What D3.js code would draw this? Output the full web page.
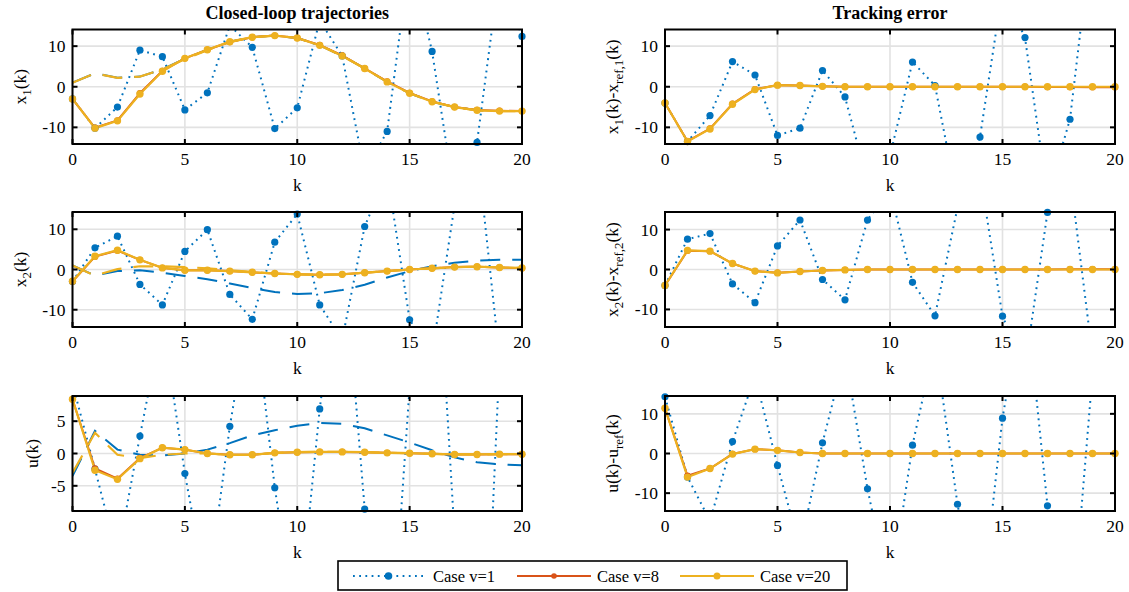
<!DOCTYPE html>
<html>
<head>
<meta charset="utf-8">
<script src="https://cdn.jsdelivr.net/npm/d3@7"></script>
<style>
body { margin: 0; background: #fff; }
svg { display: block; }
text { font-family: "Liberation Serif", "Times New Roman", serif; fill: #000; }
</style>
</head>
<body>
<svg id="chart" width="1129" height="592" font-family="Liberation Serif, serif"></svg>
<script>
// sample index
var ks = [0,1,2,3,4,5,6,7,8,9,10,11,12,13,14,15,16,17,18,19,20];

// closed-loop x1(k)
var x1V1  = [-3.0,-10.2,-5.0,9.0,7.4,-5.7,-1.5,15.1,9.7,-10.3,-5.2,16.3,7.6,-21,-11.0,31.8,8.7,-27.3,-13.7,28.3,12.4];
var x1V8  = [-3.0,-10.1,-8.3,-1.6,3.9,7.0,9.1,11.0,12.2,12.6,12.0,10.3,7.7,4.5,1.3,-1.5,-3.6,-5.0,-5.7,-5.9,-6.0];
var x1V20 = [-3.0,-10.2,-8.4,-1.8,3.8,7.0,9.1,11.1,12.2,12.6,12.0,10.2,7.6,4.5,1.2,-1.6,-3.7,-5.0,-5.8,-6.0,-6.0];
var x1RefV1  = [1.0,3.3,2.2,2.5,4.3,6.9,9.1,11.1,12.2,12.6,12.0,10.2,7.6,4.5,1.2,-1.6,-3.7,-5.0,-5.8,-6.0,-6.0];
var x1RefV20 = [1.0,3.3,2.2,2.5,4.3,6.8,9.0,11.0,12.2,12.6,12.0,10.2,7.6,4.5,1.2,-1.6,-3.7,-5.0,-5.8,-6.0,-6.0];

// closed-loop x2(k)
var x2V1  = [-3.0,5.4,8.3,-3.7,-8.8,4.5,9.9,-6.2,-12.4,6.8,13.8,-8.8,-17.5,10.7,24,-12.5,-21,16,30,-22,-40];
var x2V8  = [-3.0,3.2,4.7,2.4,0.4,-0.2,-0.2,-0.4,-0.7,-1.0,-1.2,-1.3,-1.2,-0.8,-0.4,0.0,0.3,0.6,0.7,0.5,0.3];
var x2V20 = [-2.9,3.3,4.8,2.4,0.4,-0.2,-0.2,-0.4,-0.7,-1.0,-1.2,-1.3,-1.2,-0.8,-0.4,0.0,0.3,0.6,0.7,0.5,0.4];
var x2RefV1  = [1.0,-1.5,-0.4,-0.2,-0.8,-1.6,-2.4,-3.5,-4.6,-5.6,-6.1,-5.9,-5.1,-3.8,-2.0,-0.4,0.8,1.7,2.2,2.4,2.4];
var x2RefV20 = [1.0,-1.5,0.1,0.8,0.8,0.6,0.3,-0.2,-0.6,-1.0,-1.2,-1.3,-1.2,-0.8,-0.4,0.0,0.3,0.6,0.7,0.5,0.4];

// input u(k)
var uV1  = [10.8,-2.4,-16,2.7,20.5,-3.1,-22,4.2,25,-5.3,-28,6.9,34,-8.6,-40.6,10.3,46,-12.6,-63,14.3,60];
var uV8  = [8.4,-2.3,-3.9,-0.7,0.9,0.6,0.0,-0.2,-0.2,0.1,0.2,0.25,0.25,0.2,0.1,0.05,-0.05,-0.15,-0.15,-0.1,-0.1];
var uV20 = [8.4,-2.6,-4.0,-0.8,0.9,0.6,0.0,-0.2,-0.2,0.1,0.2,0.25,0.25,0.2,0.1,0.05,-0.05,-0.15,-0.15,-0.1,-0.1];
var uRefV1  = [-3.5,3.5,0.6,-0.2,-0.3,0.0,0.6,1.6,2.8,3.6,4.3,4.75,4.6,3.9,2.8,1.7,0.5,-0.6,-1.35,-1.7,-1.8];
var uRefV20 = [-3.0,3.2,-0.2,-0.7,-0.2,0.0,0.0,-0.2,-0.2,0.1,0.2,0.25,0.25,0.2,0.1,0.05,-0.05,-0.15,-0.15,-0.1,-0.1];

// tracking errors
var e1V1  = [-4.0,-13.5,-7.1,6.2,2.9,-12.0,-10.2,4.0,-2.5,-23.5,-17,6.1,0.3,-28,-12.4,24,12.1,-27,-8.0,39,18];
var e1V8  = [-4.0,-13.4,-10.3,-4.2,-0.6,0.4,0.3,0.1,0.0,0.0,0.0,0.0,0.0,0.0,0.0,0.0,0.0,-0.05,-0.05,-0.1,-0.1];
var e1V20 = [-4.0,-13.5,-10.4,-4.3,-0.7,0.4,0.3,0.1,0.0,0.0,0.0,0.0,0.0,0.0,0.0,0.0,0.0,0.0,0.0,0.0,0.0];
var e2V1  = [-4.0,7.6,9.0,-3.6,-8.3,5.9,12.4,-2.5,-7.6,12.4,20,-3.2,-11.6,15.5,24,-11.7,-24.5,14.3,23.5,-21.6,-40];
var e2V8  = [-4.0,4.7,4.6,1.5,-0.4,-0.8,-0.5,-0.25,-0.1,0.0,0.0,0.0,0.0,0.0,0.0,0.0,0.0,0.0,0.05,0.05,0.05];
var e2V20 = [-4.0,4.8,4.6,1.5,-0.4,-0.85,-0.5,-0.25,-0.1,0.0,0.0,0.0,0.0,0.0,0.0,0.0,0.0,0.0,0.0,0.0,0.0];
var e3V1  = [14.3,-5.9,-17,3.0,19.5,-3.0,-24,2.7,25,-8.9,-36,2.1,28,-12.8,-42,8.9,42,-13.2,-49,20,60];
var e3V8  = [11.4,-5.6,-3.8,-0.1,1.1,0.8,0.25,0.0,0.0,0.0,0.0,0.0,0.0,0.0,0.0,0.0,0.0,0.0,0.0,0.0,0.0];
var e3V20 = [11.4,-5.95,-3.8,-0.15,1.1,0.8,0.25,0.0,0.0,0.0,0.0,0.0,0.0,0.0,0.0,0.0,0.0,0.0,0.0,0.0,0.0];

var xTicks = [0,5,10,15,20];
var legendNames = ["Case v=1","Case v=8","Case v=20"];

var colBlue = "#0072BD", colRed = "#D95319", colYellow = "#EDB120";
var serif = "'Liberation Serif', 'Times New Roman', serif";

var colX = [[72.5,522],[665,1115]];
var rowY = [[29.5,144],[212,327],[396,511]];

var svg = d3.select("#chart");

var panels = [
	{col:0,row:0,ydom:[-14.1,14.1],yticks:[-10,0,10],labX:20,
	 label:[["x"],["1","sub"],["(k)"]],title:"Closed-loop trajectories",
	 v1:x1V1,v8:x1V8,v20:x1V20,r1:x1RefV1,r20:x1RefV20},
	{col:0,row:1,ydom:[-14.3,14.3],yticks:[-10,0,10],labX:20,
	 label:[["x"],["2","sub"],["(k)"]],
	 v1:x2V1,v8:x2V8,v20:x2V20,r1:x2RefV1,r20:x2RefV20},
	{col:0,row:2,ydom:[-8.9,8.9],yticks:[-5,0,5],labX:32,
	 label:[["u(k)"]],
	 v1:uV1,v8:uV8,v20:uV20,r1:uRefV1,r20:uRefV20},
	{col:1,row:0,ydom:[-14.1,14.1],yticks:[-10,0,10],labX:612,
	 label:[["x"],["1","sub"],["(k)-x"],["ref,1","sub"],["(k)"]],title:"Tracking error",
	 v1:e1V1,v8:e1V8,v20:e1V20},
	{col:1,row:1,ydom:[-14.4,14.4],yticks:[-10,0,10],labX:612,
	 label:[["x"],["2","sub"],["(k)-x"],["ref,2","sub"],["(k)"]],
	 v1:e2V1,v8:e2V8,v20:e2V20},
	{col:1,row:2,ydom:[-14.5,14.5],yticks:[-10,0,10],labX:612,
	 label:[["u(k)-u"],["ref","sub"],["(k)"]],
	 v1:e3V1,v8:e3V8,v20:e3V20}
];

function addLabel(sel, parts) {
	var sub = false;
	parts.forEach(function(p) {
		var s = sel.append("tspan").text(p[0]);
		if (p[1] == "sub" && !sub) { s.attr("dy", 5).style("font-size","13px"); sub = true; }
		else if (p[1] != "sub" && sub) { s.attr("dy", -5); sub = false; }
	});
}

function drawPanel(p, idx) {
	var x0 = colX[p.col][0], x1 = colX[p.col][1];
	var y0 = rowY[p.row][0], y1 = rowY[p.row][1];

	var x = d3.scaleLinear().domain([0,20]).range([x0,x1]);
	var y = d3.scaleLinear().domain(p.ydom).range([y1,y0]);

	var g = svg.append("g");

	g.append("clipPath").attr("id","clip"+idx)
		.append("rect").attr("x",x0).attr("y",y0).attr("width",x1-x0).attr("height",y1-y0);

	// grid
	g.selectAll(".gx").data(xTicks).enter().append("line")
		.attr("x1",function(d){return x(d);}).attr("x2",function(d){return x(d);})
		.attr("y1",y0).attr("y2",y1)
		.attr("stroke","#e2e2e2").attr("stroke-width",1.6);
	g.selectAll(".gy").data(p.yticks).enter().append("line")
		.attr("y1",function(d){return y(d);}).attr("y2",function(d){return y(d);})
		.attr("x1",x0).attr("x2",x1)
		.attr("stroke","#e2e2e2").attr("stroke-width",1.6);

	var line = d3.line().x(function(d,i){return x(ks[i]);}).y(function(d){return y(d);});
	var plot = g.append("g").attr("clip-path","url(#clip"+idx+")");

	var series = [
		{d:p.v1,c:colBlue,w:2,dash:"1.8,4.4",r:3.6},
		{d:p.r1,c:colBlue,w:2,dash:"20,12"},
		{d:p.v8,c:colRed,w:2,r:3.2},
		{d:p.v20,c:colYellow,w:2.2,r:3.7},
		{d:p.r20,c:colYellow,w:2.2,dash:"20,12"}
	];

	series.forEach(function(s) {
		if (!s.d) return;
		plot.append("path").datum(s.d)
			.attr("d",line).attr("fill","none")
			.attr("stroke",s.c).attr("stroke-width",s.w)
			.attr("stroke-dasharray",s.dash ? s.dash : null);
		if (s.r) {
			var pts = s.d.map(function(v,i){return {k:ks[i],v:v};})
				.filter(function(q){return q.v >= p.ydom[0] && q.v <= p.ydom[1];});
			g.selectAll(null).data(pts).enter().append("circle")
				.attr("cx",function(q){return x(q.k);})
				.attr("cy",function(q){return y(q.v);})
				.attr("r",s.r).attr("fill",s.c);
		}
	});

	// box and inward ticks
	g.append("rect").attr("x",x0).attr("y",y0).attr("width",x1-x0).attr("height",y1-y0)
		.attr("fill","none").attr("stroke","#000").attr("stroke-width",2);
	xTicks.forEach(function(t) {
		g.append("line").attr("x1",x(t)).attr("x2",x(t)).attr("y1",y1).attr("y2",y1-5).attr("stroke","#000").attr("stroke-width",2);
		g.append("line").attr("x1",x(t)).attr("x2",x(t)).attr("y1",y0).attr("y2",y0+5).attr("stroke","#000").attr("stroke-width",2);
	});
	p.yticks.forEach(function(t) {
		g.append("line").attr("x1",x0).attr("x2",x0+5).attr("y1",y(t)).attr("y2",y(t)).attr("stroke","#000").attr("stroke-width",2);
		g.append("line").attr("x1",x1).attr("x2",x1-5).attr("y1",y(t)).attr("y2",y(t)).attr("stroke","#000").attr("stroke-width",2);
	});

	// tick labels
	g.selectAll(".xt").data(xTicks).enter().append("text")
		.attr("x",function(d){return x(d);}).attr("y",y1+21)
		.attr("text-anchor","middle").style("font-family",serif).style("font-size","17.5px")
		.text(function(d){return d;});
	g.selectAll(".yt").data(p.yticks).enter().append("text")
		.attr("x",x0-7).attr("y",function(d){return y(d)+6;})
		.attr("text-anchor","end").style("font-family",serif).style("font-size","17.5px")
		.text(function(d){return d;});

	g.append("text").attr("x",(x0+x1)/2).attr("y",y1+47)
		.attr("text-anchor","middle").style("font-family",serif).style("font-size","17.5px").text("k");

	var lab = g.append("text")
		.attr("transform","translate("+(p.labX+6)+","+((y0+y1)/2)+") rotate(-90)")
		.attr("text-anchor","middle").style("font-family",serif).style("font-size","17.5px");
	addLabel(lab, p.label);

	if (p.title) {
		g.append("text").attr("x",(x0+x1)/2).attr("y",19)
			.attr("text-anchor","middle").style("font-family",serif)
			.style("font-size","18px").style("font-weight","bold")
			.text(p.title);
	}
}

panels.forEach(drawPanel);

// legend
var leg = svg.append("g");
leg.append("rect").attr("x",338).attr("y",561).attr("width",509).attr("height",29)
	.attr("fill","#fff").attr("stroke","#000").attr("stroke-width",1.6);
var legItems = [
	{x1:353,x2:424,c:colBlue,dash:"1.8,4.4",r:3.8,tx:433},
	{x1:517,x2:591,c:colRed,r:2.8,tx:597},
	{x1:680,x2:754,c:colYellow,r:3.5,tx:760}
];
legItems.forEach(function(it,i) {
	leg.append("line").attr("x1",it.x1).attr("x2",it.x2).attr("y1",576).attr("y2",576)
		.attr("stroke",it.c).attr("stroke-width",2).attr("stroke-dasharray",it.dash ? it.dash : null);
	leg.append("circle").attr("cx",(it.x1+it.x2)/2).attr("cy",576).attr("r",it.r).attr("fill",it.c);
	leg.append("text").attr("x",it.tx).attr("y",581.5).style("font-family",serif)
		.style("font-size","16.5px").text(legendNames[i]);
});
</script>
</body>
</html>
